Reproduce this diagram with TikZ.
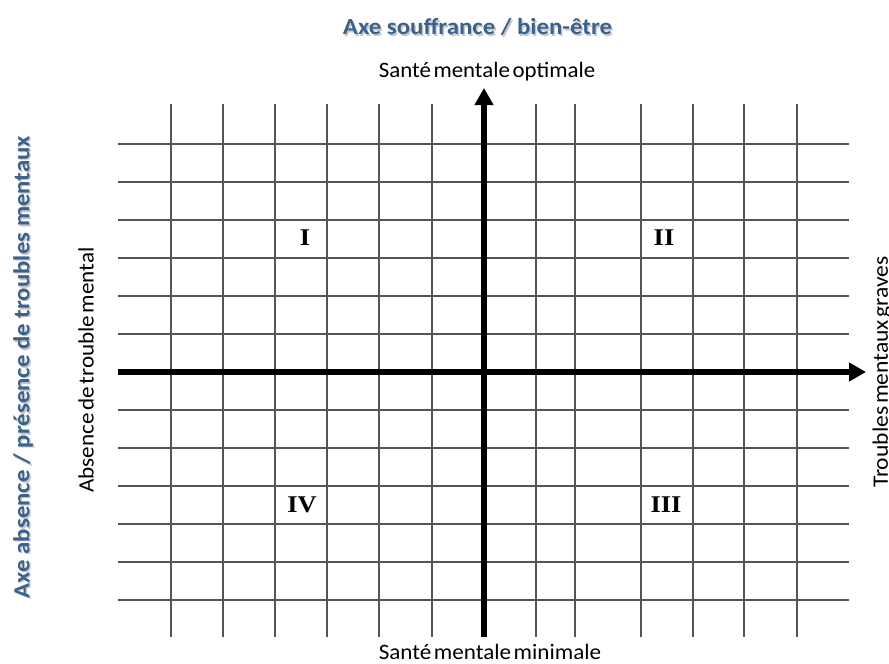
\documentclass[tikz,border=0pt]{standalone}
\usepackage{fontspec}
\setmainfont{Carlito}[WordSpace=0.5]
\newfontfamily\titlefont{Carlito}
\newfontfamily\numfont{Liberation Serif}
\usetikzlibrary{arrows.meta}
\definecolor{titleblue}{RGB}{58,98,142}
\definecolor{gridgray}{RGB}{85,85,85}
\tikzset{
  gridline/.style={draw=gridgray, line width=1.7pt},
  axisline/.style={draw=black, line width=5.5pt, -{Triangle[length=17pt,width=18pt]}},
  axtitle/.style={font=\fontsize{23}{27}\titlefont\bfseries, text=titleblue, inner sep=0pt},
  axshadow/.style={font=\fontsize{23}{27}\titlefont\bfseries, text=black!22, inner sep=0pt},
  poletext/.style={font=\fontsize{22}{26}\selectfont, text=black, inner sep=0pt},
  quadnum/.style={font=\fontsize{24}{28}\numfont\bfseries, text=black, inner sep=0pt, xscale=1.1}
}
\begin{document}
\begin{tikzpicture}[x=1pt,y=-1pt]
\useasboundingbox (0,0) rectangle (889,664);
% grid
\foreach \yy in {144,182,220,258,296,334,410,448,486,524,562,600}
  \draw[gridline] (118,\yy) -- (849,\yy);
\foreach \xx in {171,223,275,327,379,432,536,575,641,693,744,797}
  \draw[gridline] (\xx,104) -- (\xx,637);
% axes
\coordinate (hstart) at (118,372);
\coordinate (hend) at (866,372);
\coordinate (vstart) at (484,637);
\coordinate (vend) at (484,88);
\draw[axisline] (hstart) -- (hend);
\draw[axisline] (vstart) -- (vend);
% titles
\node[axshadow, xscale=1.08] (titleshadow) at (479,28.5) {Axe souffrance / bien-être};
\node[axtitle, xscale=1.08] (title) at (477.5,27) {Axe souffrance / bien-être};
\node[axshadow, rotate=90, xscale=1.08] (lefttitleshadow) at (24.5,368.5) {Axe absence / présence de troubles mentaux};
\node[axtitle, rotate=90, xscale=1.08] (lefttitle) at (23,367) {Axe absence / présence de troubles mentaux};
% pole labels
\node[poletext, xscale=1.04] (top) at (487,72) {Santé mentale optimale};
\node[poletext, xscale=1.05] (bottom) at (490,652) {Santé mentale minimale};
\node[poletext, rotate=90, xscale=1.05] (left) at (86,370) {Absence de trouble mental};
\node[poletext, rotate=90, xscale=1.07] (right) at (882,372) {Troubles mentaux graves};
% quadrant numerals
\node[quadnum] (q1) at (305,238) {I};
\node[quadnum] (q2) at (664,238) {II};
\node[quadnum] (q3) at (666,505) {III};
\node[quadnum] (q4) at (302,505) {IV};
\end{tikzpicture}
\end{document}
